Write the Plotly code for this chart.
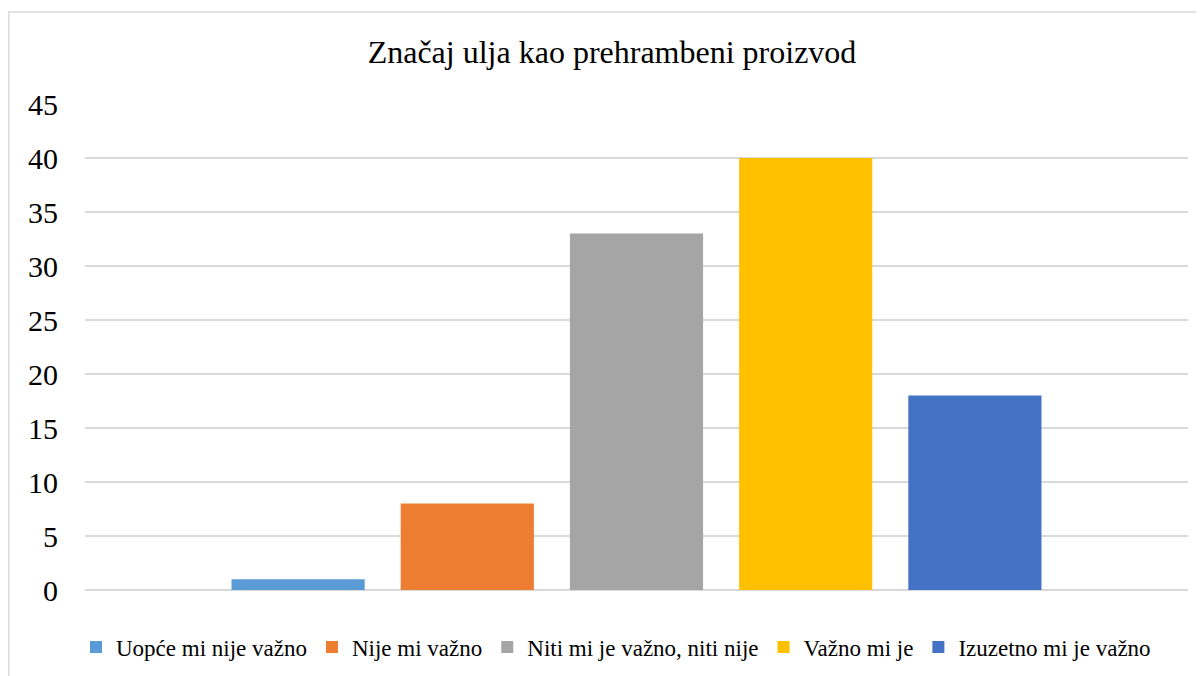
import plotly.graph_objects as go

title_text = "Značaj ulja kao prehrambeni proizvod"
series_names = ["Uopće mi nije važno", "Nije mi važno", "Niti mi je važno, niti nije",
                "Važno mi je", "Izuzetno mi je važno"]
series_values = [1, 8, 33, 40, 18]
series_colors = ["#5B9BD5", "#ED7D31", "#A5A5A5", "#FFC000", "#4472C4"]
category = [""]
y_ticks = [0, 5, 10, 15, 20, 25, 30, 35, 40, 45]

# page body has an 8px margin, so figure coords = screen coords - 8
OFF = 8
W, H = 1204 - OFF, 676 - OFF
L, R, T, B = 85 - OFF, 1188 - OFF, 104 - OFF, 590 - OFF

fig = go.Figure()
for name, val, col in zip(series_names, series_values, series_colors):
    fig.add_trace(go.Bar(x=category, y=[val], name=name, marker_color=col,
                         marker_line_width=0))

font_family = "'Liberation Serif', 'Times New Roman', Tinos, Times, serif"

def px_x(px):
    return (px - OFF - L) / (R - L)

def px_y(py):
    return (B - (py - OFF)) / (B - T)

fig.update_layout(
    width=W, height=H,
    margin=dict(l=L, r=W - R, t=T, b=H - B, autoexpand=False),
    paper_bgcolor="white", plot_bgcolor="white",
    barmode="group", bargap=0.233, bargroupgap=0.213,
    font=dict(family=font_family, color="black"),
    title=dict(text=title_text, x=(612 - OFF) / W, xanchor="center", xref="container",
               y=1 - (52 - OFF) / H, yanchor="middle", yref="container",
               font=dict(size=32, family=font_family, color="black")),
    xaxis=dict(showticklabels=False, showgrid=False, zeroline=False,
               showline=False, ticks=""),
    yaxis=dict(range=[0, 45], tickvals=y_ticks, showgrid=True,
               gridcolor="#D9D9D9", gridwidth=1.5, zeroline=True,
               zerolinecolor="#D9D9D9", zerolinewidth=2, showline=False,
               ticks="", ticklabelstandoff=26,
               tickfont=dict(size=30, family=font_family, color="black")),
    legend=dict(orientation="h", xref="container", yref="container",
                x=(616 - OFF) / W, xanchor="center", y=1 - (647 - OFF) / H, yanchor="middle",
                font=dict(size=23, family=font_family, color="black"),
                itemwidth=30, tracegroupgap=0, bgcolor="rgba(0,0,0,0)"),
    showlegend=True,
    shapes=[dict(type="rect", xref="paper", yref="paper",
                 x0=px_x(8.75), x1=px_x(1260), y0=px_y(740), y1=px_y(12),
                 line=dict(color="#D9D9D9", width=1.5), fillcolor="rgba(0,0,0,0)",
                 layer="below")],
)

fig.write_html("out.html")
